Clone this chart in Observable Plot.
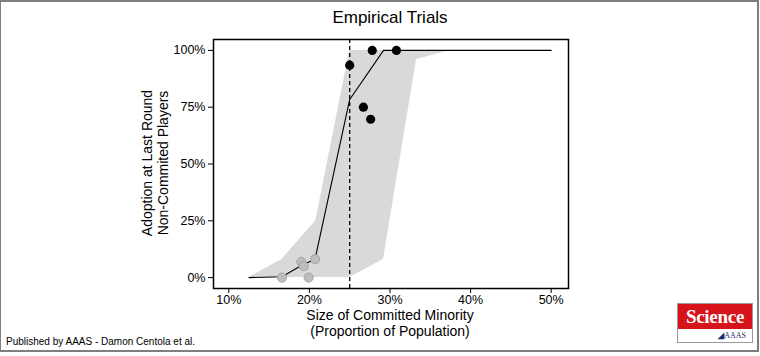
<!DOCTYPE html>
<html>
<head>
<meta charset="utf-8">
<script src="https://cdn.jsdelivr.net/npm/d3@7"></script>
<script src="https://cdn.jsdelivr.net/npm/@observablehq/plot@0.6"></script>
<style>
  html, body { margin: 0; padding: 0; background: #fff; }
  #wrap { position: relative; width: 760px; height: 356px; font-family: "Liberation Sans", Arial, sans-serif; overflow: hidden; }
  #border { position: absolute; left: 0; top: 0; width: 759px; height: 352px; box-sizing: border-box; border: 2px solid #7f7f7f; border-left-width: 1px; pointer-events: none; }
  #chart { position: absolute; left: 0; top: 0; }
  .lbl { position: absolute; color: #000; white-space: nowrap; }
  #title { left: 0; width: 780px; top: 8px; text-align: center; font-size: 17px; }
  #xlab { left: 290px; width: 200px; top: 307px; text-align: center; font-size: 14px; line-height: 16px; }
  #ylab { left: 155px; top: 163px; transform: translate(-50%, -50%) rotate(-90deg); text-align: center; font-size: 14px; line-height: 16px; }
  #foot { left: 6px; top: 336px; font-size: 10px; }
  #logo { position: absolute; left: 677px; top: 303px; width: 76px; height: 40px; border: 1px solid #999; box-sizing: border-box; background: #fff; }
  #logo .red { height: 25px; background: #d7141a; color: #fff; font-family: "Liberation Serif", "DejaVu Serif", serif; font-weight: bold; font-size: 19px; line-height: 25px; text-align: center; letter-spacing: -0.3px; }
  #logo .aaas { text-align: right; padding-right: 6px; font-family: "Liberation Serif", serif; font-size: 8px; color: #1c2d6b; line-height: 13px; }
</style>
</head>
<body>
<div id="wrap">
  <div id="chart"></div>
  <div class="lbl" id="title">Empirical Trials</div>
  <div class="lbl" id="ylab">Adoption at Last Round<br>Non-Commited Players</div>
  <div class="lbl" id="xlab">Size of Committed Minority<br>(Proportion of Population)</div>
  <div class="lbl" id="foot">Published by AAAS - Damon Centola et al.</div>
  <div id="logo"><div class="red">Science</div><div class="aaas"><b>&#9698;</b>AAAS</div></div>
  <div id="border"></div>
</div>
<script>
// Confidence ribbon
const ribbonX = [0.125, 0.166, 0.208, 0.250, 0.292, 0.333, 0.375, 0.417, 0.5];
const ribbonLow = [0, 0, 0, 0, 0.08, 0.96, 1, 1, 1];
const ribbonHigh = [0, 0.08, 0.25, 1, 1, 1, 1, 1, 1];

// Mean line
const lineX = [0.125, 0.166, 0.190, 0.207, 0.250, 0.292, 0.333, 0.375, 0.417, 0.5];
const lineY = [0, 0.004, 0.053, 0.081, 0.784, 1, 1, 1, 1, 1];

// Trials reaching the tipping point (black)
const blackX = [0.250, 0.278, 0.308, 0.267, 0.276];
const blackY = [0.935, 1, 1, 0.75, 0.697];

// Trials below the tipping point (gray)
const grayX = [0.166, 0.199, 0.190, 0.193, 0.207];
const grayY = [0, 0, 0.069, 0.05, 0.081];

const xTicks = [0.1, 0.2, 0.3, 0.4, 0.5];
const yTicks = [0, 0.25, 0.5, 0.75, 1];
const tipping = [0.25];

const ribbon = ribbonX.map((x, i) => ({x, lo: ribbonLow[i], hi: ribbonHigh[i]}));
const line = lineX.map((x, i) => ({x, y: lineY[i]}));
const black = blackX.map((x, i) => ({x, y: blackY[i]}));
const gray = grayX.map((x, i) => ({x, y: grayY[i]}));

const pct = d3.format(".0%");

const chart = Plot.plot({
  width: 760,
  height: 356,
  marginLeft: 213,
  marginRight: 192,
  marginTop: 39,
  marginBottom: 68,
  style: {fontFamily: "Liberation Sans, Arial, sans-serif", fontSize: "12.5px", color: "#000", background: "transparent"},
  x: {domain: [0.081, 0.5215], ticks: xTicks, tickFormat: pct, label: null, tickSize: 5},
  y: {domain: [-0.048, 1.048], ticks: yTicks, tickFormat: pct, label: null, tickSize: 5},
  marks: [
    Plot.areaY(ribbon, {x: "x", y1: "lo", y2: "hi", fill: "#d9d9d9"}),
    Plot.ruleX(tipping, {stroke: "#000", strokeWidth: 1.3, strokeDasharray: "4,3"}),
    Plot.line(line, {x: "x", y: "y", stroke: "#000", strokeWidth: 1.1}),
    Plot.dot(gray, {x: "x", y: "y", r: 4.6, fill: "#bdbdbd", stroke: "#9a9a9a", strokeWidth: 0.8}),
    Plot.dot(black, {x: "x", y: "y", r: 4.6, fill: "#000"}),
    Plot.frame({stroke: "#000", strokeWidth: 1.5}),
    Plot.axisX({ticks: xTicks, tickFormat: pct, tickSize: 5, tickPadding: 2, fill: "#000", label: null}),
    Plot.axisY({ticks: yTicks, tickFormat: pct, tickSize: 5, tickPadding: 3, fill: "#000", label: null})
  ]
});
document.getElementById("chart").appendChild(chart);
</script>
</body>
</html>
